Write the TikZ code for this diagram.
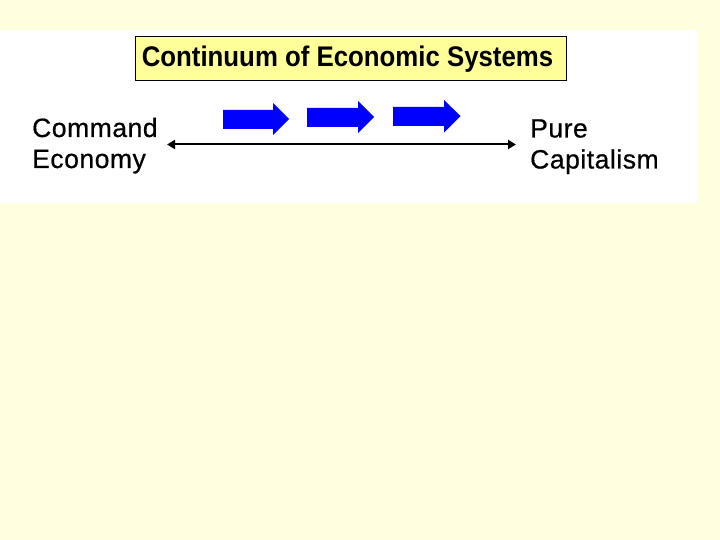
\documentclass[tikz,border=0pt]{standalone}
\usepackage{fontspec}
\setmainfont{Liberation Sans}
\newfontfamily\labelfont[LetterSpace=2,FakeBold=0.6]{Liberation Sans}
\usetikzlibrary{arrows.meta}
\definecolor{bgyellow}{HTML}{FFFFE0}
\definecolor{titleyellow}{HTML}{FFFF99}
\definecolor{arrowblue}{HTML}{0000FF}
\tikzset{
  label text/.style={anchor=base west, inner sep=0pt, font=\labelfont\fontsize{26.5}{31}\selectfont, align=left},
  blue arrow/.style={fill=arrowblue, draw=none},
}
\begin{document}
\begin{tikzpicture}[x=1pt, y=-1pt]
\useasboundingbox (0,0) rectangle (720,540);
\fill[bgyellow] (0,0) rectangle (720,540);
\fill[white] (0,30) rectangle (697,203);
% title
\node[draw=black, line width=1pt, fill=titleyellow, minimum width=431pt, minimum height=44pt, inner sep=0pt, font=\bfseries\fontsize{25.8}{30}\selectfont] (title) at (350.5,59) {\scalebox{1}[1.1]{Continuum of Economic Systems}\hspace*{6pt}};
% labels
\node[label text] (cmd) at (32,168) {Command\\Economy};
\node[label text] (cap) at (530,168.5) {Pure\\Capitalism};
% blue arrows
\fill[blue arrow] (223,110) -- (273,110) -- (273,103) -- (289,119) -- (273,135) -- (273,129) -- (223,129) -- cycle;
\fill[blue arrow] (307,108) -- (358,108) -- (358,101) -- (374,117) -- (358,133) -- (358,127) -- (307,127) -- cycle;
\fill[blue arrow] (393,107) -- (444,107) -- (444,100) -- (460.5,116) -- (444,132.5) -- (444,126) -- (393,126) -- cycle;
% double arrow
\coordinate (L) at (167,144.5);
\coordinate (R) at (516,144.5);
\draw[line width=2pt, {Triangle[length=8pt,width=9pt]}-{Triangle[length=8pt,width=9pt]}] (L) -- (R);
\end{tikzpicture}
\end{document}
